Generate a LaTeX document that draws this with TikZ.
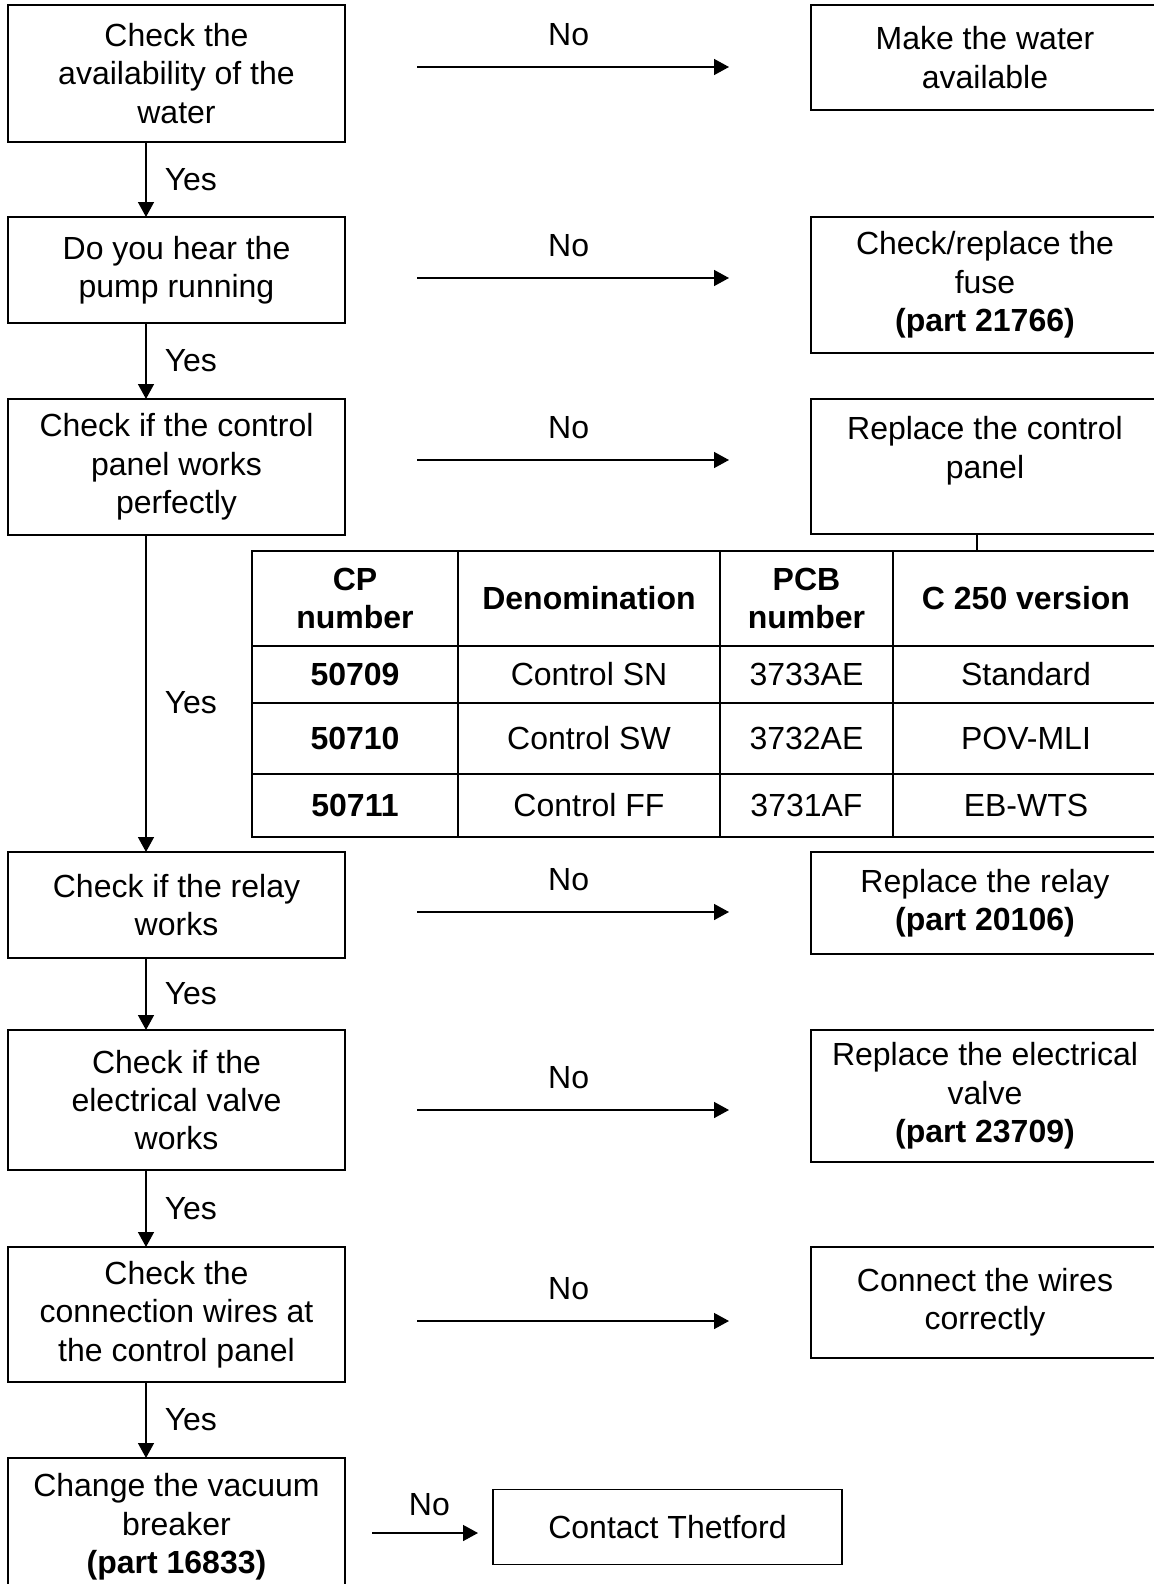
\documentclass[tikz,border=0pt]{standalone}
\usepackage{fontspec}
\setmainfont{Liberation Sans}
\usetikzlibrary{positioning,arrows.meta}
\newcommand{\basefont}{\fontsize{16}{19.2}\selectfont}

\begin{document}
\begin{tikzpicture}[x=0.5pt,y=-0.5pt,font=\basefont,
    qbox/.style={draw,line width=0.75pt,align=center,inner sep=0pt,outer sep=0pt,minimum width=168.5pt},
    fixbox/.style={draw,line width=0.75pt,align=center,inner sep=0pt,outer sep=0pt,minimum width=174pt},
    cell/.style={draw,line width=1pt,align=center,inner sep=0pt},
    hdcell/.style={cell,font=\basefont\bfseries},
    arr/.style={-{Triangle[length=7.5pt,width=8pt]},line width=0.75pt},
    lbl/.style={inner sep=0pt}]
\useasboundingbox (0,0) rectangle (1154,1584);
\coordinate (spine) at (146,0);

% questions on the left
\node[qbox,minimum height=68.5pt,anchor=north west] (water) at (8,5) {Check the\\availability of the\\water};
\node[qbox,minimum height=53pt] (pump) [below=37.5pt of water] {Do you hear the\\pump running};
\node[qbox,minimum height=68pt] (panel) [below=38pt of pump] {Check if the control\\panel works\\perfectly};
\node[qbox,minimum height=53pt] (relay) [below=158.5pt of panel] {Check if the relay\\works};
\node[qbox,minimum height=70pt] (valve) [below=36pt of relay] {Check if the\\electrical valve\\works};
\node[qbox,minimum height=67.5pt] (wires) [below=38.5pt of valve] {Check the\\connection wires at\\the control panel};
\node[qbox,minimum height=69pt] (breaker) [below=38pt of wires] {Change the vacuum\\breaker\\\textbf{(part 16833)}};

% fixes on the right
\node[fixbox,minimum height=52.5pt] (makewater) [right=233pt of water.north east,anchor=north west] {Make the water\\available};
\node[fixbox,minimum height=68pt] (fuse) [right=233pt of pump.north east,anchor=north west] {Check/replace the\\fuse\\\textbf{(part 21766)}};
\node[fixbox,minimum height=67.5pt] (newpanel) [right=233pt of panel.north east,anchor=north west] {Replace the control\\panel\\~};
\node[fixbox,minimum height=51pt] (newrelay) [right=233pt of relay.north east,anchor=north west] {Replace the relay\\\textbf{(part 20106)}};
\node[fixbox,minimum height=66pt] (newvalve) [right=233pt of valve.north east,anchor=north west] {Replace the electrical\\valve\\\textbf{(part 23709)}};
\node[fixbox,minimum height=55.5pt] (fixwires) [right=233pt of wires.north east,anchor=north west] {Connect the wires\\correctly};
\node[draw,line width=0.75pt,inner sep=0pt,outer sep=0pt,minimum width=174.5pt,minimum height=37.5pt] (thetford) [right=74pt of breaker] {Contact Thetford};

% control panel table
\node[hdcell,minimum width=103pt,minimum height=47.5pt] (hdcp) at (355,598.5) {CP\\number};
\node[hdcell,minimum width=131pt,minimum height=47.5pt] (hdden) at (589,598.5) {Denomination};
\node[hdcell,minimum width=86.5pt,minimum height=47.5pt] (hdpcb) at (806.5,598.5) {PCB\\number};
\node[hdcell,minimum width=133pt,minimum height=47.5pt] (hdver) at (1026,598.5) {C 250 version};
\foreach \r/\y/\h/\cp/\den/\pcb/\ver in {1/646/57/50709/Control SN/3733AE/Standard,
    2/703/71/50710/Control SW/3732AE/POV-MLI, 3/774/63/50711/Control FF/3731AF/EB-WTS}{
  \node[hdcell,minimum width=103pt,minimum height=\h*0.5pt] (cp\r) at (355,{\y+\h/2}) {\cp};
  \node[cell,minimum width=131pt,minimum height=\h*0.5pt] (den\r) at (589,{\y+\h/2}) {\den};
  \node[cell,minimum width=86.5pt,minimum height=\h*0.5pt] (pcb\r) at (806.5,{\y+\h/2}) {\pcb};
  \node[cell,minimum width=133pt,minimum height=\h*0.5pt] (ver\r) at (1026,{\y+\h/2}) {\ver};
}
\draw[line width=0.75pt] ([xshift=-4pt]newpanel.south) -- ([xshift=-4pt]newpanel.south |- hdver.north);

\draw[arr] (water.south -| spine) -- node[lbl,right=9pt]{Yes} (pump.north -| spine);
\draw[arr] (pump.south -| spine) -- node[lbl,right=9pt]{Yes} (panel.north -| spine);
\draw[arr] (panel.south -| spine) -- node[lbl,right=9pt,pos=0.53]{Yes} (relay.north -| spine);
\draw[arr] (relay.south -| spine) -- node[lbl,right=9pt]{Yes} (valve.north -| spine);
\draw[arr] (valve.south -| spine) -- node[lbl,right=9pt]{Yes} (wires.north -| spine);
\draw[arr] (wires.south -| spine) -- node[lbl,right=9pt]{Yes} (breaker.north -| spine);

\foreach \q/\f/\y in {water/makewater/67,pump/fuse/278,panel/newpanel/460,relay/newrelay/912,valve/newvalve/1110,wires/fixwires/1321}
  \draw[arr,shorten <=36pt,shorten >=41pt] (\q.east |- 0,\y) -- node[lbl,above=10pt,pos=0.48]{No} (\f.west |- 0,\y);
\draw[arr,shorten <=13.5pt,shorten >=7.5pt] (breaker.east |- 0,1533) -- node[lbl,above=8pt,pos=0.57]{No} (thetford.west |- 0,1533);
\end{tikzpicture}
\end{document}
